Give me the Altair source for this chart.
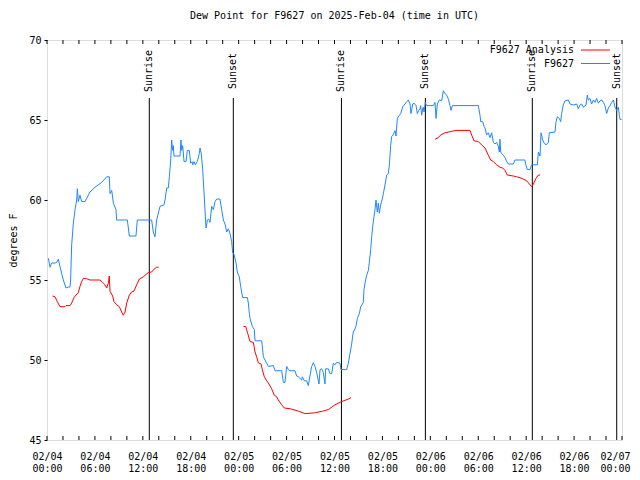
import altair as alt
import pandas as pd

BLUE = "#1e88ff"
RED = "#ff0000"
FONT = "DejaVu Sans Mono"

# F9627 observed dew point (hours since 2025-02-04 00:00 UTC, degrees F)
blue_hours = [0.17, 0.38, 0.58, 1.0, 1.21, 1.42, 1.63, 1.84, 2.04, 2.38, 2.67, 2.88, 2.96, 3.09, 3.3, 3.51,
              3.72, 3.8, 3.92, 4.13, 4.34, 4.76, 4.97, 5.38, 6.01, 6.85, 7.47, 7.8, 7.89, 8.1, 8.31, 8.64,
              8.72, 10.06, 10.31, 11.14, 11.31, 13.1, 13.31, 13.52, 13.73, 14.15, 14.65, 14.78, 14.99,
              15.19, 15.32, 15.49, 15.61, 15.74, 15.82, 15.9, 16.65, 16.78, 16.86, 16.99, 17.16, 17.41,
              17.57, 17.82, 17.99, 18.16, 18.24, 18.41, 18.57, 18.82, 19.07, 19.16, 19.32, 19.49, 19.66,
              19.78, 19.91, 20.08, 20.24, 20.41, 20.62, 20.83, 21.04, 21.25, 21.66, 21.87, 22.08, 22.29,
              22.5, 22.71, 22.92, 23.12, 23.25, 23.42, 23.67, 23.83, 24.08, 24.25, 24.5, 25.09, 25.21,
              25.34, 25.42, 25.71, 25.96, 26.05, 26.88, 26.96, 27.09, 27.3, 27.51, 27.71, 28.34, 28.55,
              29.39, 29.6, 29.8, 30.01, 30.22, 30.43, 31.05, 31.26, 31.47, 31.89, 31.97, 32.22, 32.52,
              32.72, 32.93, 33.14, 33.35, 33.56, 33.77, 34.06, 34.19, 34.39, 34.6, 34.81, 34.89, 35.23,
              35.44, 35.65, 35.85, 36.06, 36.27, 36.69, 36.81, 37.52, 37.73, 37.94, 38.15, 38.36, 38.44,
              38.69, 38.86, 39.11, 39.28, 39.61, 39.69, 39.82, 40.03, 40.24, 40.36, 40.53, 40.66, 40.78,
              40.95, 41.07, 41.2, 41.36, 41.49, 41.61, 41.78, 41.95, 42.12, 42.32, 42.53, 42.74, 42.87,
              43.03, 43.16, 43.37, 43.58, 43.7, 43.87, 44.12, 44.29, 44.54, 44.83, 45.04, 45.25, 45.45,
              45.58, 45.79, 45.96, 46.21, 46.37, 46.54, 46.71, 46.79, 46.92, 47.04, 47.12, 47.21, 47.37,
              47.54, 48.38, 48.59, 48.71, 48.88, 49.13, 49.42, 49.63, 49.84, 50.05, 50.26, 50.46, 50.59,
              50.76, 54.01, 54.22, 54.3, 54.55, 54.72, 54.85, 55.05, 55.26, 55.47, 55.68, 55.89, 56.1,
              56.31, 56.52, 56.64, 56.72, 56.81, 56.93, 57.14, 57.35, 57.56, 57.77, 58.39, 58.6, 59.85,
              59.98, 60.15, 60.48, 60.69, 61.4, 61.53, 61.74, 61.86, 62.07, 62.23, 62.48, 62.78, 62.9,
              63.61, 63.74, 63.9, 64.15, 64.32, 64.44, 64.65, 64.86, 65.28, 65.49, 65.91, 66.33, 66.53,
              66.74, 66.95, 67.16, 67.49, 67.66, 67.78, 67.99, 68.2, 68.41, 68.62, 68.83, 69.04, 69.25,
              69.46, 69.66, 69.87, 70.08, 70.29, 70.5, 70.71, 70.92, 71.13, 71.33, 71.54, 71.67, 71.75,
              71.96]
blue_values = [56.36, 55.8, 56.06, 56.06, 56.1, 56.3, 55.83, 55.4, 55.0, 54.5, 54.56, 54.56, 55.0, 57.2, 58.56,
               59.4, 60.0, 60.7, 59.9, 60.3, 59.9, 59.9, 60.1, 60.5, 60.8, 61.1, 61.45, 61.45, 60.4, 60.6,
               59.8, 59.4, 58.75, 58.75, 57.75, 57.75, 58.75, 58.75, 58.0, 57.7, 58.75, 59.6, 59.7, 60.0,
               60.75, 60.75, 61.45, 62.5, 63.75, 63.1, 63.4, 62.75, 62.75, 63.75, 63.1, 63.4, 62.4, 62.4,
               63.1, 63.1, 62.3, 62.4, 62.2, 62.4, 62.2, 62.4, 62.9, 63.25, 62.9, 61.9, 60.5, 59.4, 58.25,
               58.75, 58.8, 58.6, 59.6, 59.4, 59.9, 60.06, 60.06, 59.4, 58.75, 58.5, 58.0, 58.2, 57.9, 57.4,
               56.7, 56.6, 56.06, 55.5, 55.2, 54.6, 53.9, 53.9, 53.56, 52.9, 52.6, 52.1, 51.9, 51.2, 51.2,
               50.9, 50.2, 50.0, 49.8, 49.6, 49.65, 49.33, 49.33, 48.6, 48.6, 49.6, 49.4, 49.33, 49.33, 49.0,
               48.95, 48.75, 48.95, 48.7, 48.7, 48.4, 49.0, 49.6, 49.83, 49.6, 49.2, 48.5, 49.4, 49.45, 49.2,
               48.5, 49.45, 49.45, 49.15, 49.15, 49.8, 49.7, 49.85, 49.8, 49.4, 49.4, 49.8, 50.4, 51.0, 51.8,
               51.8, 52.1, 52.6, 52.9, 53.33, 53.6, 54.4, 54.8, 55.3, 55.6, 56.1, 56.9, 57.7, 58.33, 58.96,
               59.4, 60.0, 59.25, 59.8, 59.17, 59.7, 60.0, 60.4, 60.94, 61.56, 61.65, 62.2, 63.4, 63.96,
               64.1, 64.33, 64.0, 65.1, 65.3, 65.4, 65.83, 66.0, 66.15, 66.25, 66.0, 65.4, 66.0, 66.05,
               65.9, 65.4, 65.6, 65.7, 65.9, 65.3, 65.7, 65.8, 65.5, 66.1, 65.9, 65.9, 66.1, 65.1, 66.0,
               66.25, 66.2, 66.83, 66.65, 66.55, 66.3, 65.9, 65.6, 65.9, 65.9, 65.3, 64.9, 64.9, 64.6,
               64.5, 64.06, 64.2, 63.9, 64.2, 63.6, 63.5, 63.6, 63.33, 63.0, 63.8, 63.0, 62.9, 62.8, 62.65,
               62.4, 62.25, 62.25, 62.5, 62.5, 62.15, 61.9, 61.9, 62.2, 62.2, 63.0, 62.75, 64.2, 63.75,
               63.6, 63.44, 63.6, 64.2, 64.25, 64.9, 65.2, 65.1, 64.9, 65.4, 65.94, 66.2, 66.25, 66.0,
               65.94, 66.0, 65.7, 65.94, 66.0, 65.8, 65.94, 66.56, 66.25, 66.35, 66.0, 66.25, 66.1, 66.35,
               66.05, 66.2, 66.25, 66.1, 65.9, 65.4, 65.75, 65.9, 66.1, 66.25, 65.8, 65.6, 65.8, 65.3,
               65.04, 65.04]

# F9627 Analysis, three separate runs
red1_hours = [0.7, 1.0, 1.29, 1.63, 2.25, 2.38, 2.9, 3.09, 3.38, 3.63, 3.92, 4.13, 4.34, 4.55, 4.97, 5.38,
              6.64, 6.97, 7.26, 7.47, 7.68, 7.8, 7.89, 8.22, 8.39, 8.72, 9.06, 9.35, 9.56, 9.77, 9.98,
              10.31, 10.6, 10.89, 11.23, 11.56, 12.06, 12.4, 12.69, 13.1, 13.4, 13.73, 13.98]
red1_values = [54.0, 53.95, 53.65, 53.33, 53.33, 53.4, 53.4, 53.56, 53.9, 54.06, 54.2, 54.6, 54.9, 55.1,
               55.08, 55.0, 55.0, 54.85, 54.7, 54.5, 54.8, 55.25, 54.3, 54.0, 53.65, 53.45, 53.33, 53.0,
               52.8, 53.0, 53.56, 54.06, 54.25, 54.3, 54.7, 55.06, 55.2, 55.35, 55.46, 55.5, 55.67, 55.8,
               55.8]
red2_hours = [24.6, 24.88, 25.13, 25.42, 25.84, 26.05, 26.25, 26.46, 26.8, 26.96, 27.21, 27.51, 27.8, 28.13,
              28.46, 28.76, 28.97, 29.38, 29.72, 30.5, 31.5, 32.3, 33.5, 34.5, 35.23, 36.06, 36.9, 37.94,
              38.05]
red2_values = [52.1, 52.1, 51.67, 51.15, 51.1, 50.5, 50.2, 49.83, 49.75, 49.4, 48.95, 48.7, 48.5, 48.2,
               47.8, 47.7, 47.5, 47.2, 47.0, 46.95, 46.8, 46.65, 46.7, 46.8, 46.9, 47.2, 47.4, 47.6, 47.65]
red3_hours = [48.6, 49.0, 49.29, 49.84, 50.46, 51.21, 52.97, 53.18, 53.47, 54.01, 54.43, 54.85, 55.26, 55.56,
              55.89, 56.31, 56.72, 57.06, 57.35, 57.64, 58.39, 58.81, 59.23, 59.65, 60.06, 60.4, 60.69,
              60.9, 61.23, 61.53, 61.74]
red3_values = [63.8, 63.9, 64.06, 64.2, 64.27, 64.35, 64.35, 64.06, 63.7, 63.65, 63.44, 63.25, 62.8, 62.5,
               62.4, 62.2, 62.05, 62.0, 61.85, 61.56, 61.5, 61.45, 61.4, 61.3, 61.2, 61.0, 60.83, 61.0,
               61.35, 61.56, 61.56]

sun_hours = [12.81, 23.33, 36.87, 47.38, 60.77, 71.34]
sun_labels = ["Sunrise", "Sunset", "Sunrise", "Sunset", "Sunrise", "Sunset"]

tick_hours = list(range(0, 73, 2))
label_hours = list(range(0, 73, 6))
y_ticks = [45, 50, 55, 60, 65, 70]
legend_labels = ["F9627 Analysis", "F9627"]

T0 = pd.Timestamp("2025-02-04T00:00:00Z")


def ms(h):
    return int((T0 + pd.Timedelta(hours=h)).timestamp() * 1000)


blue_df = pd.DataFrame({"t": [ms(h) for h in blue_hours], "v": blue_values})
red_rows = []
for seg, (hs, vs) in enumerate([(red1_hours, red1_values), (red2_hours, red2_values),
                                (red3_hours, red3_values)]):
    for h, v in zip(hs, vs):
        red_rows.append({"t": ms(h), "v": v, "seg": seg})
red_df = pd.DataFrame(red_rows)
sun_df = pd.DataFrame({"t": [ms(h) for h in sun_hours], "label": sun_labels})
tick_df = pd.DataFrame({"t": [ms(h) for h in tick_hours]})

W, H = 575, 400
xscale = alt.Scale(type="utc", domain=[ms(0), ms(72)])
yscale = alt.Scale(domain=[45, 70], nice=False, zero=False)

xaxis = alt.Axis(
    values=[ms(h) for h in label_hours],
    labelExpr="[utcFormat(datum.value, '%m/%d'), utcFormat(datum.value, '%H:%M')]",
    ticks=False, tickSize=0, domain=False, grid=False, labelAngle=0,
    labelAlign="center", labelBaseline="top", labelPadding=11, labelLineHeight=12,
    labelOffset={"condition": {"test": f"datum.value >= {ms(72)}", "value": -7}, "value": 0},
    labelFont=FONT, labelFontSize=10, labelColor="black", labelOverlap=False, labelFlush=False,
    title=None,
)
yaxis = alt.Axis(
    values=y_ticks, tickSize=3, tickColor="black", domain=False, grid=False,
    labelFont=FONT, labelFontSize=10, labelColor="black", labelPadding=3,
    title="degrees F", titleFont=FONT, titleFontSize=10, titleFontWeight="normal",
    titleColor="black", titlePadding=10,
)


def X():
    return alt.X("t:T", scale=xscale, axis=xaxis, title=None)


blue = alt.Chart(blue_df).mark_line(color=BLUE, strokeWidth=1).encode(
    x=X(), y=alt.Y("v:Q", scale=yscale, axis=yaxis))
red = alt.Chart(red_df).mark_line(color=RED, strokeWidth=1).encode(
    x=X(), y=alt.Y("v:Q", scale=yscale, axis=yaxis), detail="seg:N")

sun_rules = alt.Chart(sun_df).mark_rule(color="black", strokeWidth=1).encode(
    x=X(), y=alt.value(58), y2=alt.value(H))
sun_text = alt.Chart(sun_df).mark_text(
    angle=270, align="center", baseline="middle", font=FONT, fontSize=10, color="black"
).encode(x=X(), y=alt.value(31), text="label:N")

ticks_bottom = alt.Chart(tick_df).mark_rule(color="black", strokeWidth=1).encode(
    x=X(), y=alt.value(H - 4), y2=alt.value(H))
ticks_top = alt.Chart(tick_df).mark_rule(color="black", strokeWidth=1).encode(
    x=X(), y=alt.value(0), y2=alt.value(4))

legend_layers = []
for i, (lab, col) in enumerate(zip(legend_labels, [RED, BLUE])):
    ly = 10 + i * 13.5
    ldf = pd.DataFrame({"label": [lab]})
    legend_layers.append(alt.Chart(ldf).mark_text(
        align="right", baseline="middle", font=FONT, fontSize=10, color="black"
    ).encode(x=alt.value(527), y=alt.value(ly), text="label:N"))
    legend_layers.append(alt.Chart(ldf).mark_rule(color=col, strokeWidth=1).encode(
        x=alt.value(534), x2=alt.value(563), y=alt.value(ly)))

chart = alt.layer(
    ticks_bottom, ticks_top, sun_rules, sun_text, red, blue, *legend_layers
).properties(
    width=W, height=H,
    padding={"left": 39, "top": 32, "right": 10, "bottom": 32},
    autosize=alt.AutoSizeParams(type="none"),
    title=alt.TitleParams(
        text="Dew Point for F9627 on 2025-Feb-04 (time in UTC)", font=FONT, fontSize=10,
        fontWeight="normal", color="black", offset=14, anchor="middle"),
).configure_view(stroke="black", strokeWidth=1).configure(background="white")

chart.save("out.html", embed_options={"renderer": "svg", "actions": False})
